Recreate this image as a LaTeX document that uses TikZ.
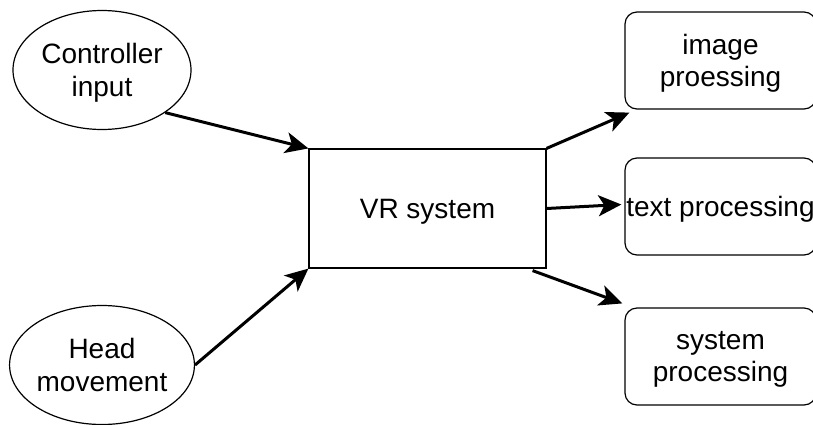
\documentclass[tikz,border=0pt]{standalone}
\usepackage{fontspec}
\setmainfont{Liberation Sans}
\usetikzlibrary{shapes.geometric,arrows.meta}

\tikzset{
  lbl/.style={font=\fontsize{28}{32.5}\selectfont, align=center, text=black,
              text depth=0pt},
  source/.style={lbl, ellipse, draw, line width=1.2pt, inner sep=0pt,
                 minimum width=178pt, minimum height=119pt},
  core/.style={lbl, rectangle, draw, line width=1.2pt,
               minimum width=237pt, minimum height=119pt},
  task/.style={lbl, rectangle, draw, rounded corners=12pt, line width=1.2pt,
               minimum width=191pt, minimum height=97pt, inner sep=0pt},
  flow/.style={line width=3pt, -{Stealth[length=23pt,width=21pt,inset=6pt]}}
}

\begin{document}
\begin{tikzpicture}[x=1pt,y=-1pt]
  \useasboundingbox (0,0) rectangle (813,424);

  % inputs
  \node[source] (ctrl) at (102,70) {Controller\\input};
  \node[source] (head) at (102,365) {Head\\movement};

  % central system
  \node[core] (vr) at (427.5,208.5) {VR system};

  % processing stages
  \node[task] (img) at (720.5,60.5) {image\\proessing};
  \node[task] (txt) at (720.5,206.5) {text processing};
  \node[task] (sys) at (720.5,356.5) {system\\processing};

  % connectors
  \draw[flow] (ctrl.-34) -- (vr.north west);
  \draw[flow] (head.east) -- (vr.south west);
  \draw[flow] (vr.north east) -- ([xshift=5pt,yshift=-3pt]img.south west);
  \draw[flow] (vr.east) -- ([xshift=-3pt,yshift=2pt]txt.west);
  \draw[flow] ([xshift=-14pt,yshift=-2pt]vr.south east) -- ([xshift=-2pt,yshift=4pt]sys.north west);
\end{tikzpicture}
\end{document}
